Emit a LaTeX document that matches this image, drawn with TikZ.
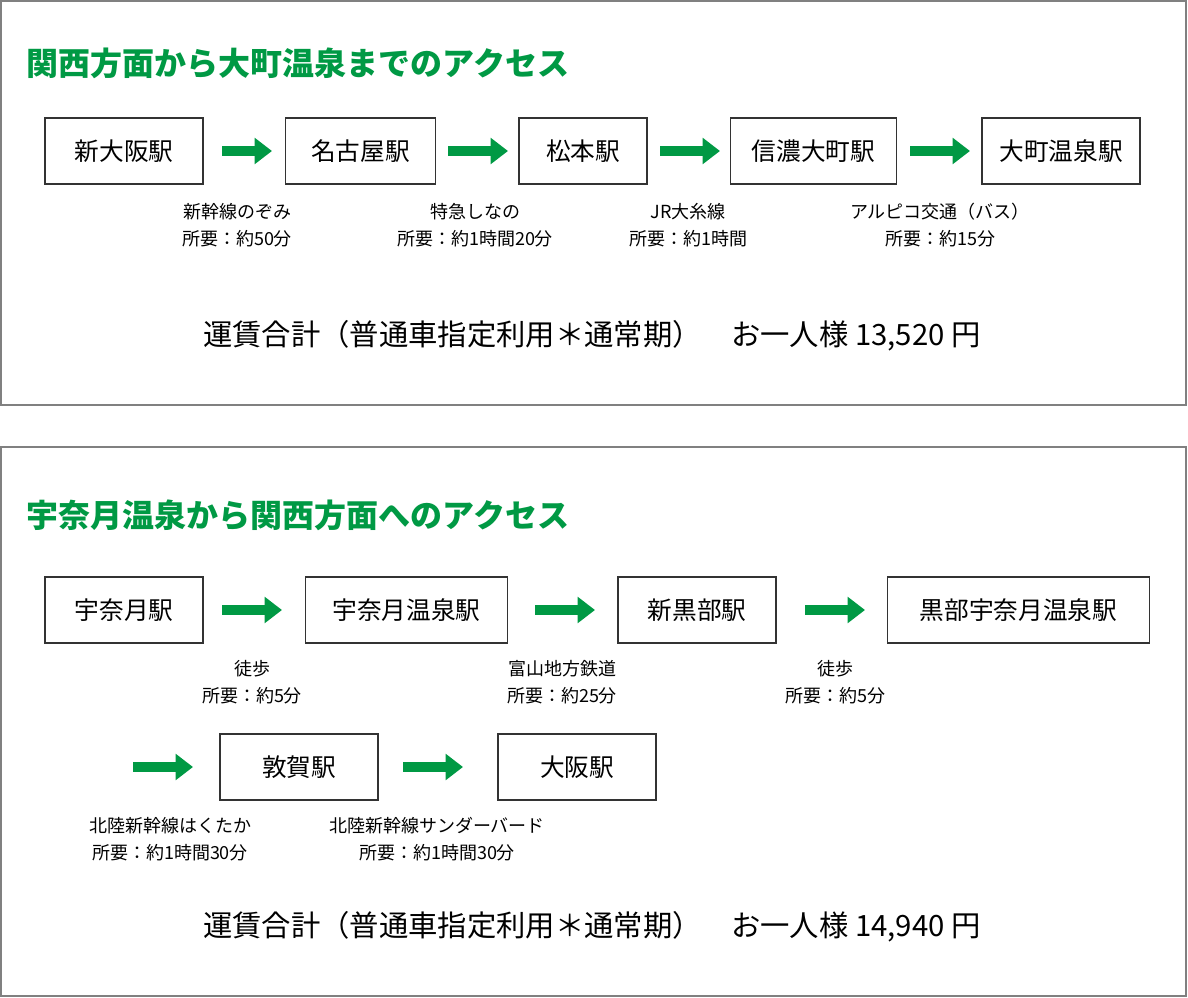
\documentclass[tikz,border=0pt]{standalone}
\usepackage{fontspec}
\setmainfont{Noto Sans CJK JP}
\usetikzlibrary{arrows.meta}
\definecolor{jrgreen}{HTML}{009944}

\tikzset{
  stn/.style={draw=black!80,line width=0.8pt,minimum height=49.5pt,inner sep=0pt,font=\fontsize{18.5}{20}\selectfont},
  go/.style={jrgreen,line width=7.5pt,-{Triangle[length=13pt,width=19pt]}},
  info/.style={align=center,font=\fontsize{13.5}{20}\selectfont},
  head/.style={anchor=west,text=jrgreen,font=\fontsize{24}{26}\selectfont\bfseries},
  fare/.style={font=\fontsize{22}{24}\selectfont},
  panel/.style={draw=black!50,line width=0.8pt}
}

\begin{document}
\begin{tikzpicture}[x=0.75pt,y=-0.75pt]
\useasboundingbox (0,0) rectangle (1188,998);

%panel 1
\draw[panel] (1,1) rectangle (1186,405);
\node[head] (t1) at (22,63) {関西方面から大町温泉までのアクセス};

\node[stn,minimum width=118.5pt] (shinosaka) at (124,151) {新大阪駅};
\node[stn,minimum width=113pt] (nagoya) at (360.5,151) {名古屋駅};
\node[stn,minimum width=96pt] (matsumoto) at (583,151) {松本駅};
\node[stn,minimum width=124pt] (shinano) at (813.5,151) {信濃大町駅};
\node[stn,minimum width=118.5pt] (omachi) at (1061,151) {大町温泉駅};

\foreach \a/\b/\n in {222/272/1,448/508/2,660/720/3,910/970/4}{
  \coordinate (p\n a) at (\a,151);
  \coordinate (p\n b) at (\b,151);
  \draw[go] (p\n a) -- (p\n b);
}

\node[info] (i1) at (237,225) {新幹線のぞみ\\所要：約50分};
\node[info] (i2) at (475,225) {特急しなの\\所要：約1時間20分};
\node[info] (i3) at (688,225) {JR大糸線\\所要：約1時間};
\node[info] (i4) at (940,225) {アルピコ交通（バス）\\所要：約15分};

\node[fare] (f1) at (592,336) {運賃合計（普通車指定利用＊通常期）\quad お一人様 13,520 円};

%panel 2
\draw[panel] (1,447) rectangle (1186,996);
\node[head] (t2) at (22,515) {宇奈月温泉から関西方面へのアクセス};

\node[stn,minimum width=118.5pt] (unazuki) at (124,610) {宇奈月駅};
\node[stn,minimum width=152pt] (unazukionsen) at (406.5,610) {宇奈月温泉駅};
\node[stn,minimum width=118.5pt] (shinkurobe) at (697,610) {新黒部駅};
\node[stn,minimum width=197pt] (kurobe) at (1018.5,610) {黒部宇奈月温泉駅};
\node[stn,minimum width=118.5pt] (tsuruga) at (299,767) {敦賀駅};
\node[stn,minimum width=118.5pt] (osaka) at (577,767) {大阪駅};

\foreach \a/\b/\y/\n in {222/282/610/5,535/595/610/6,805/865/610/7,133/193/767/8,403/463/767/9}{
  \coordinate (p\n a) at (\a,\y);
  \coordinate (p\n b) at (\b,\y);
  \draw[go] (p\n a) -- (p\n b);
}

\node[info] (i5) at (252,682) {徒歩\\所要：約5分};
\node[info] (i6) at (562,682) {富山地方鉄道\\所要：約25分};
\node[info] (i7) at (835,682) {徒歩\\所要：約5分};
\node[info] (i8) at (170,839) {北陸新幹線はくたか\\所要：約1時間30分};
\node[info] (i9) at (437,839) {北陸新幹線サンダーバード\\所要：約1時間30分};

\node[fare] (f2) at (592,927) {運賃合計（普通車指定利用＊通常期）\quad お一人様 14,940 円};

\end{tikzpicture}
\end{document}
